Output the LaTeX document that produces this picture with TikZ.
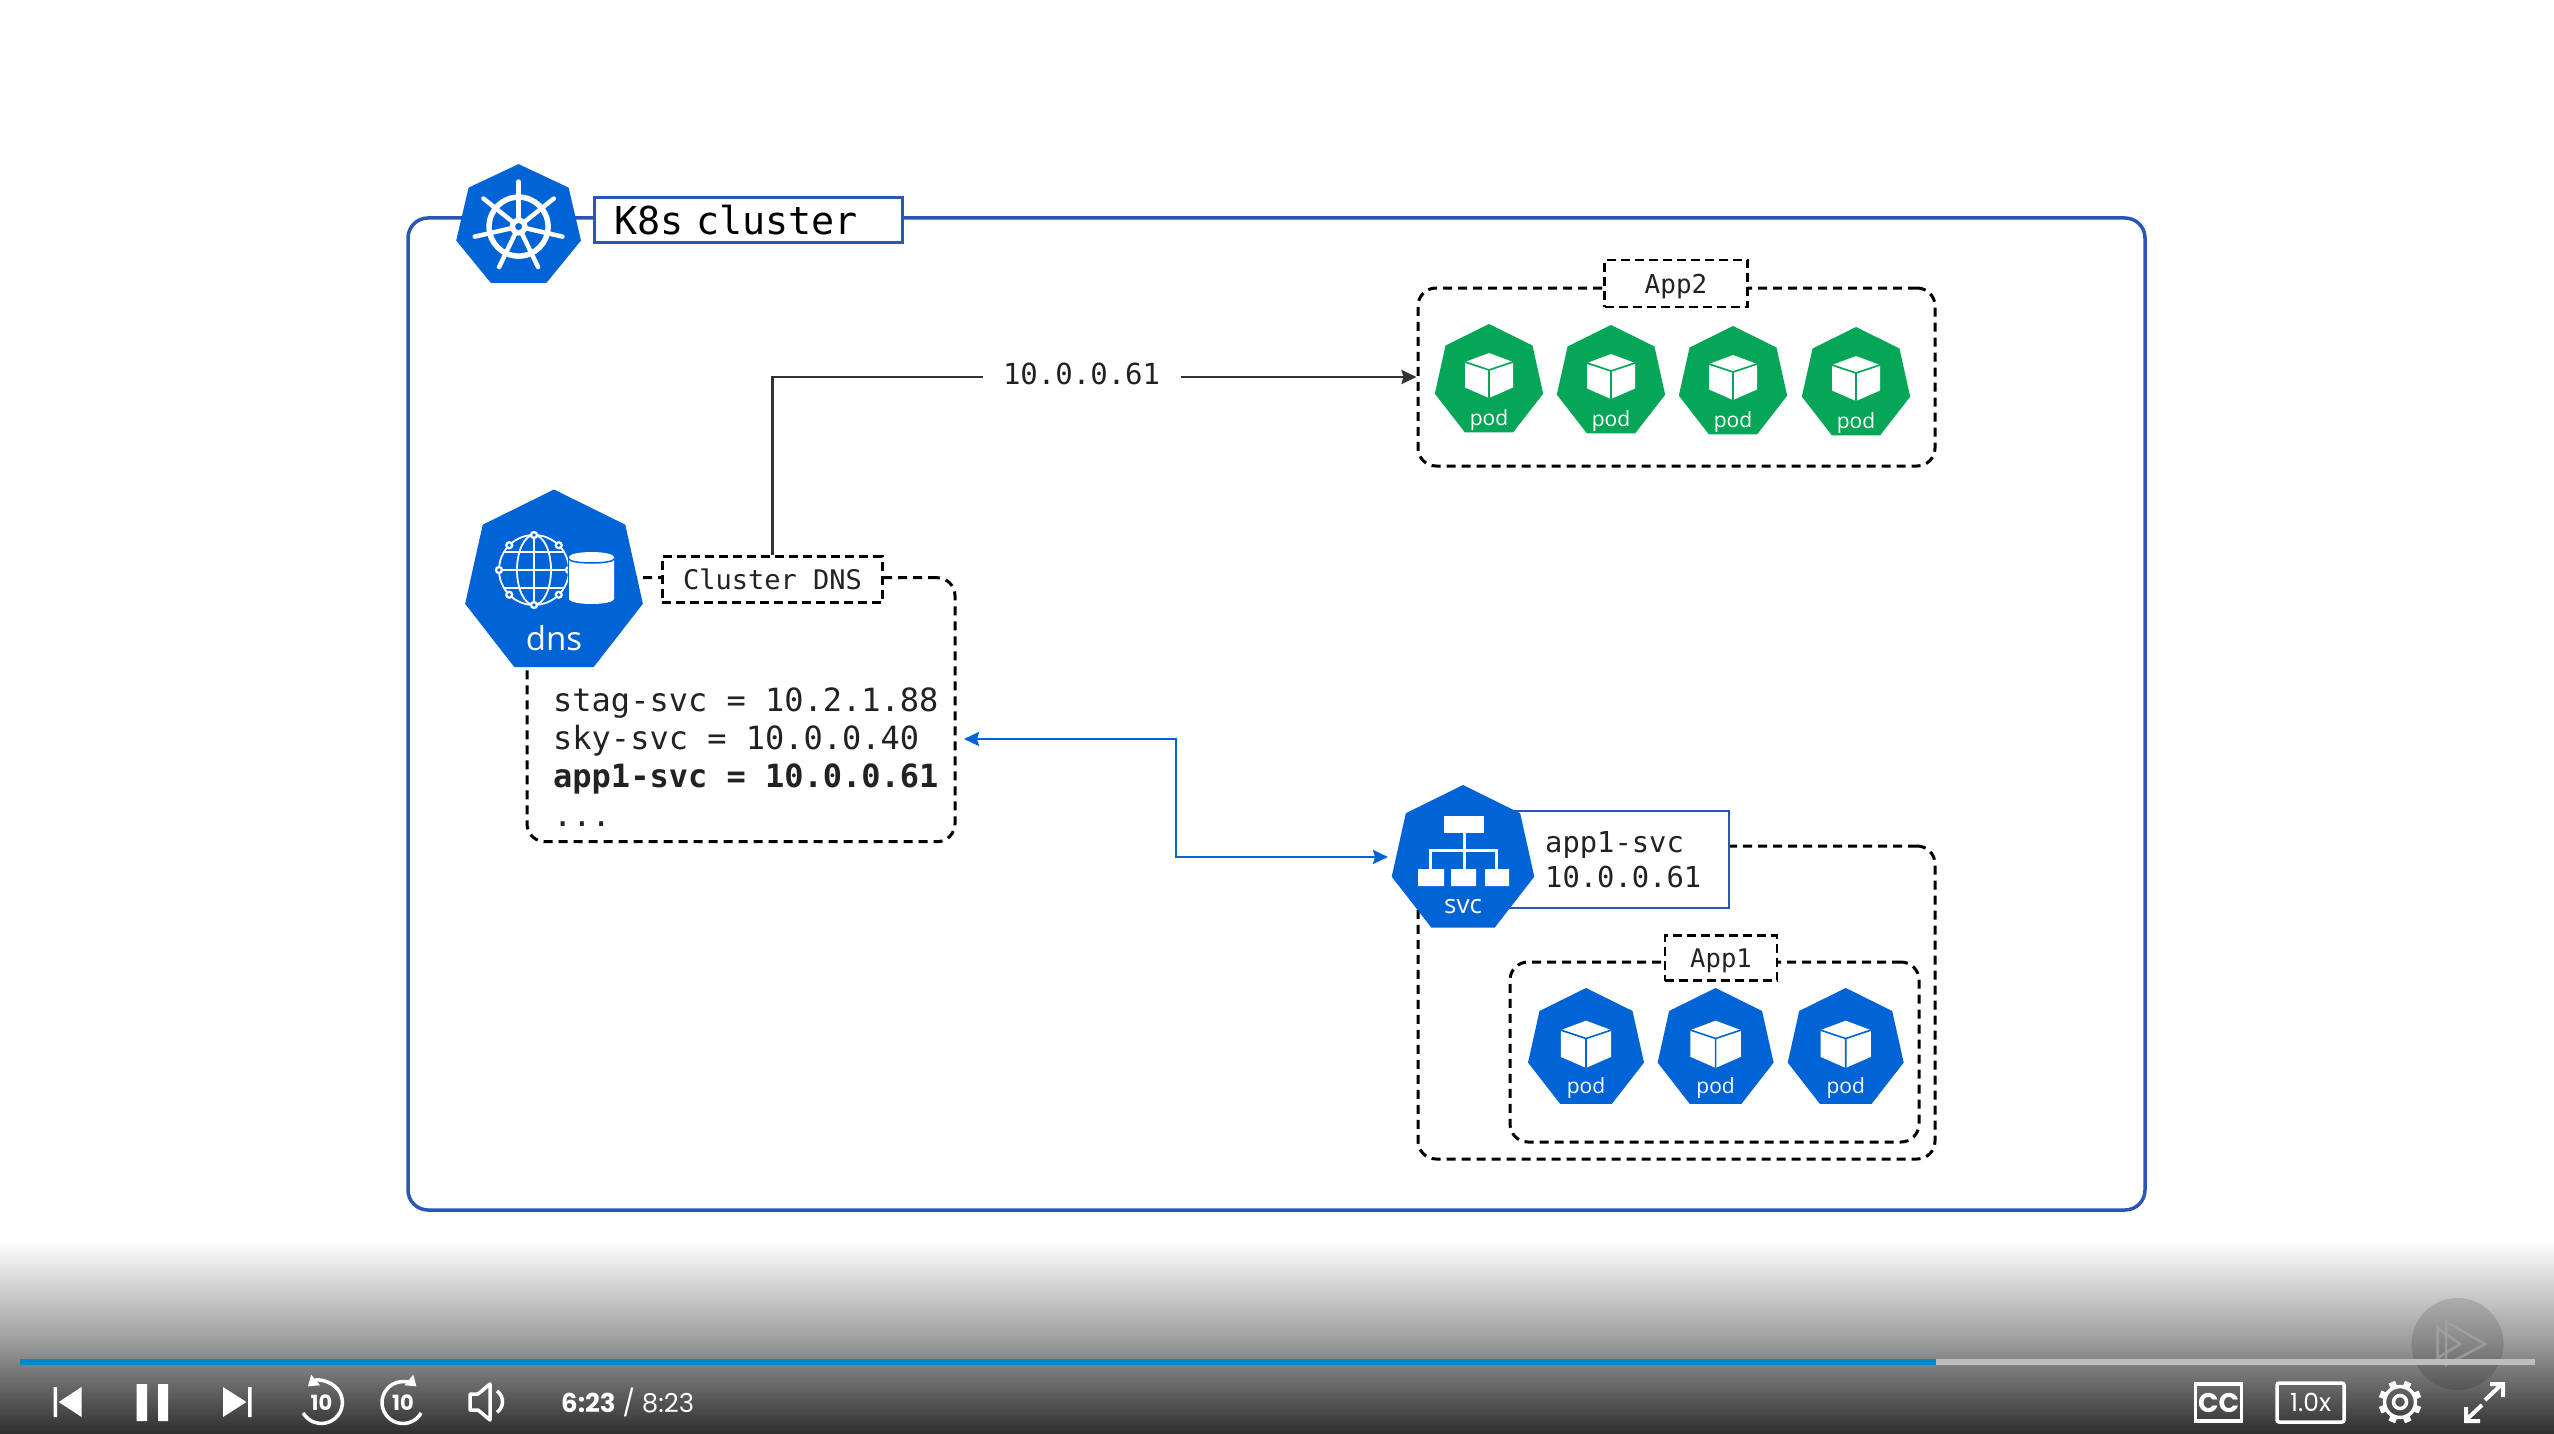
\documentclass[tikz,border=0pt]{standalone}
\usepackage{fontspec}
\usepackage{xcolor}
\usetikzlibrary{shapes.geometric, arrows.meta, positioning}
\setmonofont{DejaVu Sans Mono}
\setsansfont{Open Sans}
\newfontfamily\playerfont{Poppins}
\definecolor{kubeBlue}{HTML}{0063D6}
\definecolor{kubeGreen}{HTML}{05A657}
\definecolor{clusterBlue}{HTML}{2B56B8}
\definecolor{lineDark}{HTML}{333333}
\definecolor{textDark}{HTML}{222222}
\definecolor{barBlue}{HTML}{0088C4}
\definecolor{barGrey}{HTML}{BDBDBD}

\tikzset{
    podicon/.pic={
        \fill[white, line join=round] (0,-29) -- (24,-20) -- (24,5.5) -- (0,16) -- (-24,5.5) -- (-24,-20) -- cycle;
        \draw[#1, line width=1.6pt] (-24,-20) -- (0,-12) -- (24,-20) (0,-12) -- (0,16);
    },
    wheelicon/.pic={
        \draw[white, line width=5.5pt] (0,0) circle[radius=29.5pt];
        \foreach \a in {0,...,6} {
            \draw[white, line width=4.5pt, line cap=round] (0,0) -- (90+\a*360/7:45pt);
        }
        \fill[white] (0,0) circle[radius=9pt];
        \fill[kubeBlue] (0,0) circle[radius=3.5pt];
    },
    dnsicon/.pic={
        % globe
        \draw[white, line width=1.8pt] (-20,-13) circle[radius=35pt];
        \draw[white, line width=1.8pt] (-20,-13) ellipse[x radius=17pt, y radius=35pt];
        \draw[white, line width=1.8pt] (-20,-48) -- (-20,22) (-55,-13) -- (15,-13) (-50,-31) -- (10,-31) (-50,5) -- (10,5);
        \foreach \a in {0,45,...,315} {
            \fill[white] (-20,-13) ++(\a:35pt) circle[radius=4.2pt];
            \fill[kubeBlue] (-20,-13) ++(\a:35pt) circle[radius=1.8pt];
        }
        % cylinder
        \fill[kubeBlue] (14,-30) rectangle (66,26);
        \fill[white] (15,-26) -- (15,16) arc[start angle=180, end angle=360, x radius=22.5pt, y radius=5pt] -- (60,-26) arc[start angle=0, end angle=180, x radius=22.5pt, y radius=5pt] -- cycle;
        \draw[kubeBlue, line width=1.5pt] (15,-24) arc[start angle=180, end angle=360, x radius=22.5pt, y radius=4pt];
    },
    svcicon/.pic={
        \fill[white] (-19,-44) rectangle (21,-27);
        \draw[white, line width=3pt] (1,-27) -- (1,9) (-33,9) -- (-33,-10) -- (33,-10) -- (33,9);
        \fill[white] (-45,9) rectangle (-19,26) (-12,9) rectangle (13,26) (22,9) rectangle (46,26);
    }
}

\begin{document}
\begin{tikzpicture}[
    x=1pt, y=-1pt,
    kube/.style={regular polygon, regular polygon sides=7, minimum size=#1, inner sep=0pt, outer sep=0pt, fill=kubeBlue, transform shape, xscale=.975},
    dashbox/.style={rectangle, rounded corners=18pt, draw=black, line width=3pt, dash pattern=on 9pt off 6pt},
    tagbox/.style={rectangle, draw=black, fill=white, line width=2.4pt, dash pattern=on 9pt off 5pt, inner sep=0pt, text depth=0pt},
    monotext/.style={font=\fontsize{#1}{#1}\selectfont\ttfamily, text=textDark, inner sep=0pt},
    icontext/.style={font=\fontsize{#1}{#1}\selectfont\sffamily, text=white, inner sep=0pt},
    arrow/.style={-{Stealth[length=15pt, width=14pt, inset=2pt]}, line width=2.4pt, #1},
    playertext/.style={font=\fontsize{#1}{#1}\selectfont\playerfont, text=white, inner sep=0pt},
    control/.style={draw=white, line width=3.5pt}
]
\useasboundingbox (0,0) rectangle (2554,1434);
\fill[white] (0,0) rectangle (2554,1434);

% Cluster frame
\node[draw=clusterBlue, rounded corners=20pt, line width=3.5pt, minimum width=1737pt, minimum height=992pt] (cluster) at (1276.5,714) {};
\node[kube=125pt, xscale=1.05] (k8s) at (518.6,226.6) {};
\pic at (k8s.center) {wheelicon};
\node[draw=clusterBlue, fill=white, line width=3.5pt, minimum height=45pt, text width=269pt, inner xsep=19.5pt, inner ysep=0pt, align=left, font=\fontsize{38.4}{38.4}\selectfont\ttfamily, text=black, text depth=0pt] (k8slabel) at (748.5,220) {K8s cluster};

% App2
\node[dashbox, minimum width=517pt, minimum height=178pt] (app2box) at (1676.5,377) {};
\node[tagbox, minimum width=143pt, minimum height=47pt, monotext=26] (app2label) at (1676,283.5) {App2};
\foreach \i/\px/\py in {1/1489/381,2/1611/382,3/1733/383,4/1856/384} {
    \node[kube=114pt, fill=kubeGreen] (greenpod\i) at (\px,\py) {};
    \pic[yshift=-1pt] at (greenpod\i.center) {podicon=kubeGreen};
    \node[icontext=21] at ([yshift=-39pt]greenpod\i.center) {pod};
}

% Cluster DNS
\node[dashbox, minimum width=428pt, minimum height=264pt] (dnsbox) at (741,709.7) {};
\node[kube=187pt] (dns) at (554,583) {};
\pic at (dns.center) {dnsicon};
\node[icontext=33] (dnstext) at ([yshift=-55pt]dns.center) {dns};
\node[tagbox, minimum width=220pt, minimum height=46pt, monotext=27] (dnslabel) at (772.4,579.5) {Cluster DNS};
\node[monotext=31.8, anchor=north west, align=left, font=\fontsize{32}{37.7}\selectfont\ttfamily] (dnslist) at (553,688) {stag-svc = 10.2.1.88\\sky-svc = 10.0.0.40\\\textbf{app1-svc = 10.0.0.61}\\[1pt]...};

% App1
\node[dashbox, minimum width=517pt, minimum height=313pt] (svcbox) at (1676.5,1002.5) {};
\node[draw=clusterBlue, fill=white, line width=2.6pt, minimum width=229pt, minimum height=97pt] (svclabel) at (1614.5,859.4) {};
\node[kube=150pt] (svc) at (1463,860) {};
\pic at (svc.center) {svcicon};
\node[icontext=26] at ([yshift=-47pt]svc.center) {svc};
\node[monotext=28.8, anchor=north west, align=left, font=\fontsize{28.8}{35}\selectfont\ttfamily] (svctext) at (1545,831) {app1-svc\\10.0.0.61};
\node[dashbox, minimum width=409pt, minimum height=180pt] (app1box) at (1714.5,1052) {};
\node[tagbox, minimum width=112pt, minimum height=45pt, monotext=25.6] (app1label) at (1721,958) {App1};
\foreach \i/\px in {1/1586,2/1715.6,3/1845.7} {
    \node[kube=122pt] (bluepod\i) at (\px,1049) {};
    \pic[scale=1.05, yshift=-2pt] at (bluepod\i.center) {podicon=kubeBlue};
    \node[icontext=21] at ([yshift=-39pt]bluepod\i.center) {pod};
}

% Arrows
\draw[arrow=lineDark] (dnslabel.north) |- node[pos=.74, fill=white, minimum width=198pt, monotext=29, yshift=3pt] (ipaddr) {10.0.0.61} (app2box.west);
\coordinate (dnsport) at (964,739);
\coordinate (svcport) at (1388,857);
\draw[arrow=kubeBlue, {Stealth[length=15pt, width=14pt, inset=2pt]}-{Stealth[length=15pt, width=14pt, inset=2pt]}] (dnsport) -- ++(212,0) |- (svcport);

% Player bar
\shade[top color=white, bottom color=white!18!black, middle color=white!63!black] (0,1240) rectangle (2554,1434);
\fill[black, opacity=.13] (2457.5,1344) circle[radius=46pt];
\draw[white!65!black, opacity=.7, line width=2.5pt] (2446,1321.7) -- (2485,1344) -- (2446,1365) -- cycle (2437.5,1328) -- (2460,1344) -- (2437.5,1358) -- cycle;
\fill[barGrey] (1935,1359) rectangle (2535,1365);
\fill[barBlue] (20,1359) rectangle (1936,1365);

% Player controls left
\fill[white] (53.6,1387) rectangle (57,1417) (81.6,1387) -- (58.7,1402) -- (81.6,1417) -- cycle;
\fill[white] (136.7,1384) rectangle (147,1421) (158,1384) rectangle (168,1421);
\fill[white] (248,1387) rectangle (251.5,1417) (223,1387) -- (246.4,1402) -- (223,1417) -- cycle;
\node[playertext=21] (backten) at (321.4,1402.5) {\textbf{10}};
\draw[control, {Triangle[length=10pt, width=13pt]}-] ([shift={(130:21pt)}]backten.center) arc[start angle=130, end angle=-150, radius=21pt];
\node[playertext=21] (fwdten) at (403,1402.5) {\textbf{10}};
\draw[control, -{Triangle[length=10pt, width=13pt]}] ([shift={(-30:21pt)}]fwdten.center) arc[start angle=-30, end angle=-310, radius=21pt];
\draw[control, line join=round] (470,1394) -- (478,1394) -- (490,1384) -- (490,1420) -- (478,1410) -- (470,1410) -- cycle;
\draw[control] (497,1391) arc[start angle=55, end angle=-55, radius=13pt];
\node[playertext=26, anchor=west] (playtime) at (561,1402) {\textbf{6:23} / 8:23};

% Player controls right
\node[draw=white, line width=3.5pt, minimum width=46pt, minimum height=37pt, inner sep=0pt, playertext=27] (ccbox) at (2218.7,1402.5) {\textbf{CC}};
\node[draw=white, line width=3.5pt, rounded corners=2pt, minimum width=67pt, minimum height=39pt, inner sep=0pt, playertext=25] (speedbox) at (2310.5,1402.5) {1.0x};
\coordinate (gear) at (2400,1402);
\draw[control] (gear) circle[radius=15.5pt] (gear) circle[radius=6.5pt];
\foreach \a in {0,45,...,315} {
    \draw[white, line width=7pt] ([shift={(\a+22.5:15pt)}]gear) -- ([shift={(\a+22.5:21.5pt)}]gear);
}
\draw[white, line width=4pt] (2485,1400) -- (2502,1384) (2490,1384) -- (2503,1384) -- (2503,1397);
\draw[white, line width=4pt] (2482,1405) -- (2466,1420) (2466,1407) -- (2466,1421) -- (2480,1421);

\end{tikzpicture}
\end{document}
